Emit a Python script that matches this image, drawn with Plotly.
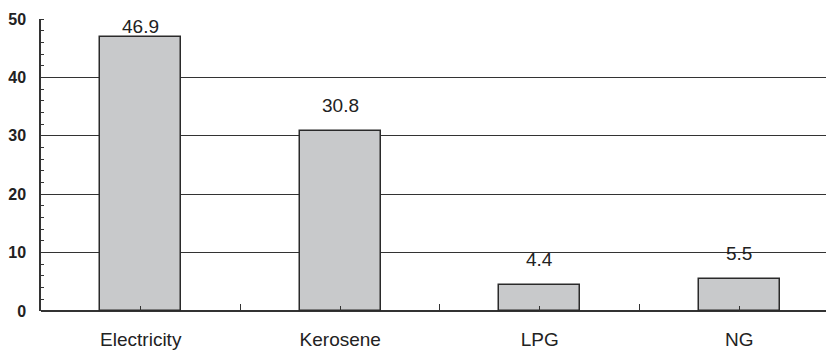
import plotly.graph_objects as go

categories = ["Electricity", "Kerosene", "LPG", "NG"]
values = [46.9, 30.8, 4.4, 5.5]
y_ticks = [0, 10, 20, 30, 40, 50]
y_max = 50

xpos = list(range(len(categories)))
boundaries = [i + 0.5 for i in xpos[:-1]]

FONT = "Liberation Sans, Arial, sans-serif"

fig = go.Figure(
    go.Bar(
        x=xpos,
        y=values,
        width=0.405,
        marker=dict(color="#C8C9CB", line=dict(color="#2a2a2a", width=1.5)),
        cliponaxis=False,
        hoverinfo="skip",
    )
)

# value labels sit above the bars; a label that would rise above the plot
# is pushed down so that it starts at the top of the plot (as in the original)
plot_h = 351 - 11 - 48
px_per_unit = plot_h / y_max
label_room = 36 / px_per_unit
for x, v in zip(xpos, values):
    if v + label_room <= y_max:
        fig.add_annotation(
            x=x, y=v, text=f"{v:.1f}", showarrow=False,
            xanchor="center", yanchor="bottom", yshift=13,
            font=dict(family=FONT, size=19, color="#222222"),
        )
    else:
        fig.add_annotation(
            x=x, y=y_max, text=f"{v:.1f}", showarrow=False,
            xanchor="center", yanchor="top", yshift=5,
            font=dict(family=FONT, size=19, color="#222222"),
        )

# the page body has an 8px margin, so the margins are shifted to compensate
fig.update_layout(
    width=834,
    height=351,
    margin=dict(l=33, r=8, t=11, b=48),
    plot_bgcolor="white",
    paper_bgcolor="white",
    showlegend=False,
    bargap=0,
)

fig.update_xaxes(
    range=[-0.5, 3.475],
    tickvals=xpos,
    ticktext=categories,
    ticks="inside",
    ticklen=5,
    tickcolor="#333333",
    tickfont=dict(family=FONT, size=19, color="#222222"),
    showgrid=False,
    showline=False,
    zeroline=False,
    minor=dict(tickvals=boundaries, ticks="inside", ticklen=7, tickcolor="#333333", showgrid=False),
    ticklabelstandoff=15,
    automargin=False,
)

fig.update_yaxes(
    range=[0, y_max],
    tickvals=y_ticks,
    tickfont=dict(family=FONT, size=16, color="#222222", weight="bold"),
    showgrid=True,
    gridcolor="#333333",
    gridwidth=1,
    zeroline=True,
    zerolinecolor="#333333",
    zerolinewidth=1.5,
    showline=True,
    linecolor="#333333",
    linewidth=1.5,
    ticks="",
    minor=dict(dtick=2, ticks="inside", ticklen=3, tickcolor="#333333", showgrid=False),
    ticklabelstandoff=10,
    automargin=False,
)

fig.write_html("out.html")
